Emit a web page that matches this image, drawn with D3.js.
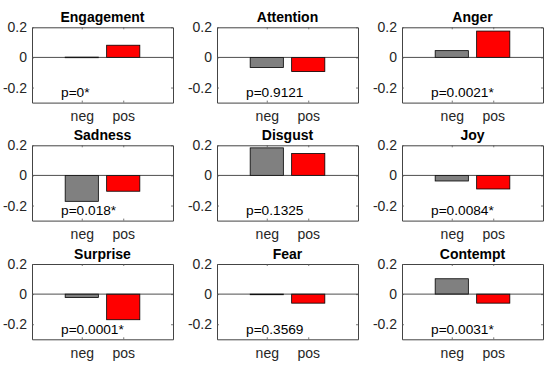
<!DOCTYPE html>
<html><head><meta charset="utf-8">
<script src="https://cdn.jsdelivr.net/npm/d3@7"></script>
<style>body{margin:0;background:#fff}</style>
</head><body>
<svg id="c" width="550" height="366"></svg>
<script>
const titles = ["Engagement","Attention","Anger","Sadness","Disgust","Joy","Surprise","Fear","Contempt"];
const categories = ["neg","pos"];
const negValues = [0.002,-0.067,0.045,-0.172,0.183,-0.037,-0.022,-0.003,0.102];
const posValues = [0.081,-0.094,0.175,-0.105,0.145,-0.090,-0.170,-0.060,-0.060];
const pLabels = ["p=0*","p=0.9121","p=0.0021*","p=0.018*","p=0.1325","p=0.0084*","p=0.0001*","p=0.3569","p=0.0031*"];
const yTicks = [-0.2,0,0.2];
const yTickLabels = ["-0.2","0","0.2"];

const svg = d3.select("#c");
const font = "'Liberation Sans', Arial, Helvetica, sans-serif";
const colLeft = [32, 217, 402];
const rowTop = [27.3, 145.3, 264];
const W = 141, H = 75.3;
const colors = ["#808080","#ff0000"];

titles.forEach((t,i)=>{
  const r = Math.floor(i/3), c = i%3;
  const g = svg.append("g").attr("transform",`translate(${colLeft[c]},${rowTop[r]})`);
  const x = d3.scaleLinear().domain([-0.2,3.2]).range([0,W]);
  const y = d3.scaleLinear().domain([-0.3,0.2]).range([H,0]);
  const vals = [negValues[i], posValues[i]];
  // bars
  g.selectAll("rect.bar").data(vals).join("rect")
    .attr("x",(d,k)=>x(k+1-0.4))
    .attr("width",x(0.8)-x(0))
    .attr("y",d=>Math.min(y(d),y(0)))
    .attr("height",d=>Math.max(Math.abs(y(d)-y(0)),0.6))
    .attr("fill",(d,k)=>colors[k])
    .attr("stroke","#000").attr("stroke-width",0.8);
  // zero line
  g.append("line").attr("x1",0).attr("x2",W).attr("y1",y(0)).attr("y2",y(0))
    .attr("stroke","#222").attr("stroke-width",0.8);
  // axes
  const xb = d3.axisBottom(x).tickValues([1,2]).tickFormat((d)=>categories[d-1]).tickSizeInner(-2).tickSizeOuter(0).tickPadding(8.5);
  const xt = d3.axisTop(x).tickValues([1,2]).tickFormat("").tickSizeInner(-2).tickSizeOuter(0);
  const yl = d3.axisLeft(y).tickValues(yTicks).tickFormat((d,k)=>yTickLabels[k]).tickSizeInner(-2).tickSizeOuter(0).tickPadding(5);
  const yr = d3.axisRight(y).tickValues(yTicks).tickFormat("").tickSizeInner(-2).tickSizeOuter(0);
  const axes = [
    g.append("g").attr("transform",`translate(0,${H})`).call(xb),
    g.append("g").call(xt),
    g.append("g").call(yl),
    g.append("g").attr("transform",`translate(${W},0)`).call(yr)
  ];
  axes.forEach(a=>{
    a.select(".domain").attr("stroke","#444").attr("stroke-width",1);
    a.selectAll(".tick line").attr("stroke","#555").attr("stroke-width",0.8);
    a.selectAll("text").attr("font-family",font).attr("font-size",14).attr("fill","#262626");
  });
  // title
  g.append("text").attr("x",W/2).attr("y",-5.3).attr("text-anchor","middle")
    .attr("font-family",font).attr("font-size",14).attr("font-weight","bold").attr("fill","#000").text(t);
  // p label
  g.append("text").attr("x",x(0.5)).attr("y",y(-0.235)).attr("dominant-baseline","central")
    .attr("font-family",font).attr("font-size",13.7).attr("fill","#000").text(pLabels[i]);
});
</script>
</body></html>
